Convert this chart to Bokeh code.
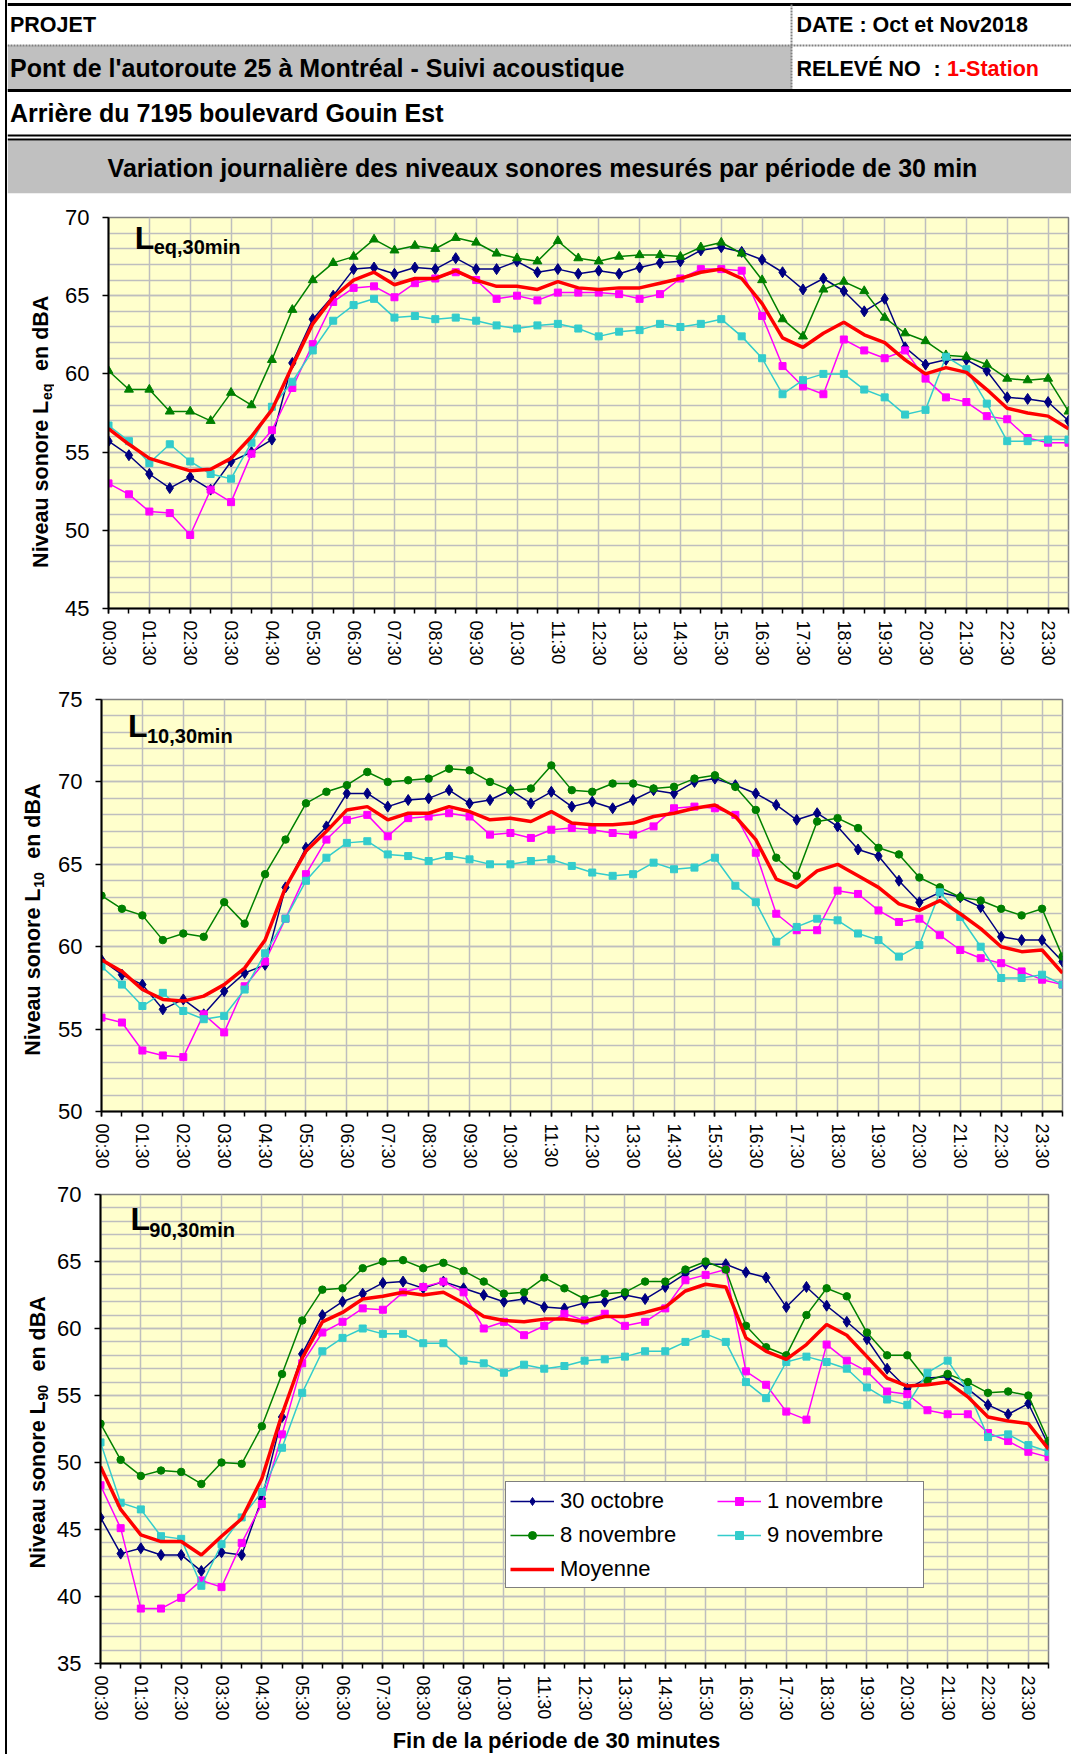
import math
from bokeh.plotting import figure
from bokeh.models import Range1d, FixedTicker, Label, Legend, LegendItem, Div
from bokeh.layouts import column, row
from bokeh.embed import file_html
from bokeh.resources import INLINE
from bokeh.core.properties import value

# ---------------- data ----------------
TICK_LABELS = ["00:30", "01:30", "02:30", "03:30", "04:30", "05:30", "06:30", "07:30",
               "08:30", "09:30", "10:30", "11:30", "12:30", "13:30", "14:30", "15:30",
               "16:30", "17:30", "18:30", "19:30", "20:30", "21:30", "22:30", "23:30"]
SERIES_NAMES = ["30 octobre", "1 novembre", "8 novembre", "9 novembre", "Moyenne"]

LEQ_30OCT = [55.7, 54.8, 53.6, 52.7, 53.4, 52.6, 54.4, 55.0, 55.8, 60.7, 63.5, 65.0, 66.7, 66.8, 66.4, 66.8,
             66.7, 67.4, 66.7, 66.7, 67.2, 66.5, 66.7, 66.4, 66.6, 66.4, 66.8, 67.1, 67.2, 67.9, 68.1, 67.8,
             67.3, 66.5, 65.4, 66.1, 65.3, 64.0, 64.8, 61.7, 60.6, 60.9, 60.9, 60.2, 58.5, 58.4, 58.2, 57.0]
LEQ_1NOV = [53.0, 52.3, 51.2, 51.1, 49.7, 52.6, 51.8, 54.9, 56.4, 59.1, 61.9, 64.6, 65.5, 65.6, 64.9, 65.8,
            66.1, 66.5, 66.0, 64.8, 65.0, 64.7, 65.2, 65.2, 65.2, 65.1, 64.8, 65.1, 66.1, 66.7, 66.7, 66.6,
            63.7, 60.5, 59.2, 58.7, 62.2, 61.5, 61.0, 61.5, 59.7, 58.5, 58.2, 57.3, 57.1, 55.9, 55.6, 55.6]
LEQ_8NOV = [60.2, 59.0, 59.0, 57.6, 57.6, 57.0, 58.8, 58.0, 60.9, 64.1, 66.0, 67.1, 67.5, 68.6, 67.9, 68.2,
            68.0, 68.7, 68.4, 67.7, 67.4, 67.2, 68.5, 67.4, 67.2, 67.5, 67.6, 67.6, 67.5, 68.1, 68.4, 67.7,
            66.0, 63.5, 62.4, 65.4, 65.9, 65.3, 63.6, 62.6, 62.1, 61.2, 61.1, 60.6, 59.7, 59.6, 59.7, 57.6]
LEQ_9NOV = [56.7, 55.7, 54.3, 55.5, 54.4, 53.6, 53.3, 55.6, 57.9, 59.5, 61.5, 63.4, 64.4, 64.8, 63.6, 63.7,
            63.5, 63.6, 63.4, 63.1, 62.9, 63.1, 63.2, 62.9, 62.4, 62.7, 62.8, 63.2, 63.0, 63.2, 63.5, 62.4,
            61.0, 58.7, 59.6, 60.0, 60.0, 59.0, 58.5, 57.4, 57.7, 61.1, 60.3, 58.1, 55.7, 55.7, 55.8, 55.8]
LEQ_MOY = [56.5, 55.5, 54.6, 54.2, 53.8, 53.9, 54.6, 56.0, 57.7, 60.5, 63.2, 64.9, 66.0, 66.5, 65.7, 66.1,
           66.1, 66.6, 66.0, 65.6, 65.6, 65.4, 65.9, 65.5, 65.4, 65.5, 65.5, 65.8, 66.1, 66.5, 66.7, 66.1,
           64.5, 62.3, 61.7, 62.6, 63.3, 62.5, 62.0, 60.9, 60.0, 60.4, 60.1, 59.0, 57.8, 57.5, 57.3, 56.5]

L10_30OCT = [59.2, 58.3, 57.7, 56.2, 56.8, 55.9, 57.3, 58.4, 58.9, 63.6, 66.0, 67.3, 69.3, 69.3, 68.5, 68.9,
             69.0, 69.5, 68.7, 68.9, 69.5, 68.7, 69.4, 68.5, 68.8, 68.4, 68.9, 69.5, 69.3, 70.0, 70.2, 69.8,
             69.3, 68.6, 67.7, 68.1, 67.3, 65.9, 65.5, 64.0, 62.7, 63.3, 63.0, 62.4, 60.6, 60.4, 60.4, 59.1]
L10_1NOV = [55.7, 55.4, 53.7, 53.4, 53.3, 55.9, 54.8, 57.6, 59.1, 61.7, 64.4, 66.5, 67.7, 68.0, 66.7, 67.8,
            67.9, 68.1, 67.9, 66.8, 66.9, 66.6, 67.1, 67.2, 67.1, 66.9, 66.8, 67.3, 68.4, 68.5, 68.4, 68.0,
            65.7, 62.0, 61.0, 61.0, 63.4, 63.2, 62.2, 61.5, 61.7, 60.7, 59.8, 59.3, 59.0, 58.5, 58.0, 57.7]
L10_8NOV = [63.1, 62.3, 61.9, 60.4, 60.8, 60.6, 62.7, 61.4, 64.4, 66.5, 68.7, 69.4, 69.8, 70.6, 70.0, 70.1,
            70.2, 70.8, 70.7, 70.0, 69.5, 69.6, 71.0, 69.5, 69.4, 69.9, 69.9, 69.6, 69.7, 70.2, 70.4, 69.7,
            68.3, 65.4, 64.3, 67.6, 67.8, 67.2, 66.0, 65.6, 64.2, 63.6, 63.0, 62.8, 62.3, 61.9, 62.3, 59.4]
L10_9NOV = [58.8, 57.7, 56.4, 57.2, 56.1, 55.6, 55.8, 57.4, 59.6, 61.7, 64.0, 65.4, 66.3, 66.4, 65.6, 65.5,
            65.2, 65.5, 65.3, 65.0, 65.0, 65.2, 65.3, 64.9, 64.5, 64.3, 64.4, 65.1, 64.7, 64.8, 65.4, 63.7,
            62.7, 60.3, 61.2, 61.7, 61.6, 60.8, 60.4, 59.4, 60.1, 63.3, 61.8, 60.0, 58.1, 58.1, 58.3, 57.7]
L10_MOY = [59.2, 58.5, 57.4, 56.8, 56.7, 57.0, 57.7, 58.7, 60.4, 63.6, 65.8, 67.0, 68.3, 68.5, 67.7, 68.1,
           68.1, 68.5, 68.2, 67.7, 67.8, 67.6, 68.2, 67.5, 67.4, 67.4, 67.5, 67.9, 68.1, 68.4, 68.6, 67.9,
           66.5, 64.1, 63.6, 64.6, 65.0, 64.3, 63.6, 62.6, 62.2, 62.8, 62.0, 61.1, 60.0, 59.7, 59.8, 58.4]

L90_30OCT = [45.9, 43.2, 43.6, 43.1, 43.1, 41.9, 43.3, 43.1, 47.3, 53.4, 58.1, 61.0, 62.0, 62.6, 63.4, 63.5,
             63.0, 63.5, 63.0, 62.5, 62.0, 62.2, 61.6, 61.5, 61.9, 62.0, 62.5, 62.2, 63.1, 64.1, 64.8, 64.8,
             64.2, 63.8, 61.6, 63.1, 61.7, 60.5, 59.2, 57.0, 55.5, 56.3, 56.4, 55.5, 54.3, 53.6, 54.4, 51.3]
L90_1NOV = [48.3, 45.1, 39.1, 39.1, 39.9, 41.2, 40.7, 44.0, 46.9, 52.1, 57.4, 59.7, 60.5, 61.5, 61.4, 62.7,
            63.1, 63.5, 62.7, 60.0, 60.5, 59.5, 60.2, 61.1, 60.6, 61.1, 60.2, 60.5, 61.5, 63.6, 64.0, 64.4,
            56.8, 55.8, 53.8, 53.2, 58.8, 57.6, 56.8, 55.3, 55.1, 53.9, 53.6, 53.6, 52.2, 51.6, 50.8, 50.4]
L90_8NOV = [52.9, 50.2, 49.0, 49.4, 49.3, 48.4, 50.0, 49.9, 52.7, 56.6, 60.6, 62.9, 63.0, 64.5, 65.0, 65.1,
            64.5, 64.9, 64.3, 63.5, 62.6, 62.7, 63.8, 63.0, 62.2, 62.6, 62.7, 63.5, 63.5, 64.4, 65.0, 64.4,
            60.2, 58.6, 58.0, 61.0, 63.0, 62.4, 59.7, 58.0, 58.0, 56.1, 56.6, 56.0, 55.2, 55.3, 55.0, 51.6]
L90_9NOV = [51.5, 47.0, 46.5, 44.5, 44.3, 40.8, 43.9, 45.9, 47.8, 51.1, 55.2, 58.3, 59.3, 60.0, 59.6, 59.6,
            58.9, 58.9, 57.6, 57.4, 56.7, 57.3, 57.0, 57.2, 57.6, 57.7, 57.9, 58.3, 58.3, 59.0, 59.6, 59.0,
            56.0, 54.8, 57.5, 57.9, 57.5, 57.0, 55.6, 54.7, 54.3, 56.7, 57.6, 55.4, 51.9, 52.1, 51.3, 50.8]
L90_MOY = [49.7, 46.5, 44.6, 44.1, 44.1, 43.1, 44.5, 45.8, 48.8, 53.6, 57.8, 60.5, 61.2, 62.2, 62.4, 62.7,
           62.5, 62.7, 61.9, 60.9, 60.6, 60.5, 60.7, 60.7, 60.5, 60.9, 60.9, 61.2, 61.6, 62.8, 63.3, 63.1,
           59.3, 58.3, 57.7, 58.8, 60.3, 59.5, 57.9, 56.3, 55.7, 55.8, 56.0, 54.9, 53.4, 53.1, 52.9, 51.0]

# ---------------- styles / layout ----------------
FONT = "Liberation Sans"
COLORS = ["#000080", "#FF00FF", "#008000", "#33CCCC", "#FF0000"]
PLOT_BG = "#FFFFCC"
GRID = "#BEBEBE"
GREY = "#C0C0C0"
W = 1064          # width right of the page border
YW = 47           # strip holding the rotated y titles
CW = W - YW       # chart figure width
MID = 0.358       # cap-centre offset (em) used to place texts by their baseline


def txt(p, x, y, t, size, bold=True, angle=0.0, align="left", color="black"):
    p.text(x=[x], y=[y], text=[t], text_font=value(FONT), text_font_size=value(f"{size}px"),
           text_font_style="bold" if bold else "normal", text_color=color,
           text_align=align, text_baseline="middle", angle=angle)


def blank(width, height, yr):
    p = figure(width=width, height=height, x_range=Range1d(0, width), y_range=Range1d(*yr),
               output_backend="svg", toolbar_location=None, x_axis_location=None,
               y_axis_location=None, min_border=0, outline_line_color=None,
               background_fill_color="white", border_fill_color="white", frame_align=False)
    p.grid.grid_line_color = None
    return p


def add_label(p, x, base, text, size):
    p.add_layout(Label(x=x, y=base + MID * size, x_units="screen", y_units="screen", text=text,
                       text_font=FONT, text_font_size=f"{size}px", text_font_style="bold",
                       text_color="black", text_align="left", text_baseline="middle"))


def make_chart(series, y_lo, y_hi, sub, green_marker, fig_h, top, frame_h, left, right,
               lab, legend=None):
    n = len(series[0])
    xs = list(range(n))
    bottom = fig_h - top - frame_h
    p = figure(width=CW, height=fig_h, x_range=Range1d(0, n - 1), y_range=Range1d(y_lo, y_hi),
               output_backend="svg", toolbar_location=None, frame_align=False,
               min_border_left=left, min_border_right=CW - right,
               min_border_top=top, min_border_bottom=bottom,
               background_fill_color=PLOT_BG, border_fill_color="white",
               outline_line_color="#808080", outline_line_width=1.5)
    xt = FixedTicker(ticks=list(range(0, n, 2)), minor_ticks=xs)
    p.xaxis.ticker = xt
    p.xaxis.major_label_overrides = {2 * i: t for i, t in enumerate(TICK_LABELS)}
    p.xaxis.major_label_orientation = "vertical"
    p.xaxis.major_label_text_font = FONT
    p.xaxis.major_label_text_font_size = "18px"
    p.xaxis.major_label_text_color = "black"
    p.xaxis.major_label_standoff = 7
    p.xaxis.major_tick_out = 5
    p.xaxis.major_tick_in = 0
    p.xaxis.minor_tick_out = 5
    p.xaxis.minor_tick_in = 0
    p.xaxis.major_tick_line_width = 1.5
    p.xaxis.minor_tick_line_width = 1.5
    p.xaxis.axis_line_width = 2
    p.xaxis.axis_line_color = "black"

    yt = FixedTicker(ticks=list(range(y_lo, y_hi + 1, 5)), minor_ticks=list(range(y_lo, y_hi + 1)))
    p.yaxis.ticker = yt
    p.yaxis.major_label_text_font = FONT
    p.yaxis.major_label_text_font_size = "22px"
    p.yaxis.major_label_text_color = "black"
    p.yaxis.major_label_standoff = 13
    p.yaxis.major_tick_out = 6
    p.yaxis.major_tick_in = 0
    p.yaxis.major_tick_line_width = 1.5
    p.yaxis.minor_tick_line_color = None
    p.yaxis.axis_line_width = 2
    p.yaxis.axis_line_color = "black"

    p.xgrid.ticker = FixedTicker(ticks=list(range(0, n, 2)))
    p.xgrid.grid_line_color = GRID
    p.xgrid.grid_line_width = 1.5
    p.ygrid.ticker = yt
    p.ygrid.grid_line_color = GRID
    p.ygrid.grid_line_width = 1.5
    p.ygrid.minor_grid_line_color = GRID
    p.ygrid.minor_grid_line_width = 1.5

    markers = ["diamond", "square", green_marker, "square", None]
    sizes = [11, 7, 9 if green_marker == "triangle" else 7.5, 7, 0]
    items = []
    for vals, col, mk, sz, name in zip(series, COLORS, markers, sizes, SERIES_NAMES):
        if mk is None:
            r = p.line(xs, vals, line_color=col, line_width=3.5)
            items.append(LegendItem(label=name, renderers=[r]))
        else:
            r = p.line(xs, vals, line_color=col, line_width=1.5)
            s = p.scatter(xs, vals, marker=mk, size=sz, fill_color=col, line_color=col, line_width=1)
            items.append(LegendItem(label=name, renderers=[r, s]))

    add_label(p, lab[0], lab[1], "L", 32)
    add_label(p, lab[2], lab[3], sub + ",30min", 20)

    if legend is not None:
        leg = Legend(items=items, location=legend, orientation="horizontal", ncols=2,
                     label_text_font=FONT, label_text_font_size="22px", label_text_color="black",
                     glyph_width=44, glyph_height=20, label_standoff=6, label_width=152,
                     label_height=29, spacing=5, padding=4, margin=0,
                     border_line_color="black", border_line_width=1.5,
                     background_fill_color="white", background_fill_alpha=1.0)
        p.add_layout(leg)
    return p


def y_title(fig_h, base_x, s, sub):
    # base_x: baseline of the rotated text; s: start (bottom) of the text, measured upward
    p = blank(YW, fig_h, (0, fig_h))
    a = math.pi / 2
    big, small = 21.5, 14
    cx = base_x - MID * big
    txt(p, cx, s, "Niveau sonore", big, angle=a)
    txt(p, cx, s + 154, "L", big, angle=a)
    txt(p, base_x + 3 - MID * small, s + 168, sub, small, angle=a)
    txt(p, cx, s + 197, "en dBA", big, angle=a)
    return p


# ---------------- header ----------------
HH = 200
hdr = blank(W, HH, (HH, 0))
hdr.quad(left=[0, 0], right=[784, W], top=[45, 140], bottom=[90, 192.7],
         fill_color=GREY, line_color=None)
hdr.segment(x0=[0], y0=[4], x1=[W], y1=[4], line_color="black", line_width=3)
hdr.segment(x0=[0], y0=[45], x1=[W], y1=[45], line_color="#808080", line_width=2, line_dash="2 1")
hdr.segment(x0=[784], y0=[4], x1=[784], y1=[90], line_color="#808080", line_width=2, line_dash="2 1")
hdr.segment(x0=[0], y0=[90], x1=[W], y1=[90], line_color="black", line_width=3)
hdr.segment(x0=[0, 0], y0=[135, 139], x1=[W, W], y1=[135, 139], line_color="black", line_width=2)


def htext(x, base, t, size, color="black", align="left"):
    txt(hdr, x, base - MID * size, t, size, color=color, align=align)


htext(2.5, 31.7, "PROJET", 21.5)
htext(789, 31.7, "DATE : Oct et Nov2018", 21.5)
htext(2.5, 76, "Pont de l'autoroute 25 à Montréal - Suivi acoustique", 25)
htext(789, 76, "RELEVÉ NO", 21.5)
htext(926, 76, ":", 21.5)
htext(939.5, 76, "1-Station", 21.5, color="#FF0000")
htext(2.5, 121.7, "Arrière du 7195 boulevard Gouin Est", 25)
htext(535, 176.7, "Variation journalière des niveaux sonores mesurés par période de 30 min", 25,
      align="center")

# ---------------- charts ----------------
c1 = make_chart([LEQ_30OCT, LEQ_1NOV, LEQ_8NOV, LEQ_9NOV, LEQ_MOY], 45, 70, "eq", "triangle",
                480, 17, 391, 54, 1014, (26.2, 359, 45.2, 354))
c2 = make_chart([L10_30OCT, L10_1NOV, L10_8NOV, L10_9NOV, L10_MOY], 50, 75, "10", "circle",
                500, 19, 412, 47, 1008, (26.5, 374, 45.5, 368.4))
c3 = make_chart([L90_30OCT, L90_1NOV, L90_8NOV, L90_9NOV, L90_MOY], 35, 70, "90", "circle",
                543, 14, 470, 45, 994, (29.9, 432.6, 48.8, 426), legend=(405, 75))

t1 = y_title(480, 41.2, 112.6, "eq")
t2 = y_title(500, 33.6, 124.7, "10")
t3 = y_title(543, 37.8, 155, "90")

XT_H = 31
xt_fig = blank(W, XT_H, (XT_H, 0))
txt(xt_fig, 549, 1748 - 1723 - MID * 22, "Fin de la période de 30 minutes", 22, align="center")

TOTAL_H = HH + 480 + 500 + 543 + XT_H
gap = Div(text="", width=5, height=TOTAL_H, margin=0, styles={"background-color": "white"})
border = Div(text="", width=2, height=TOTAL_H, margin=0, styles={"background-color": "black"})
body = column(hdr, row(t1, c1, spacing=0), row(t2, c2, spacing=0), row(t3, c3, spacing=0), xt_fig,
              spacing=0)
layout = row(gap, border, body, spacing=0)

with open("out.html", "w") as f:
    f.write(file_html(layout, INLINE))
